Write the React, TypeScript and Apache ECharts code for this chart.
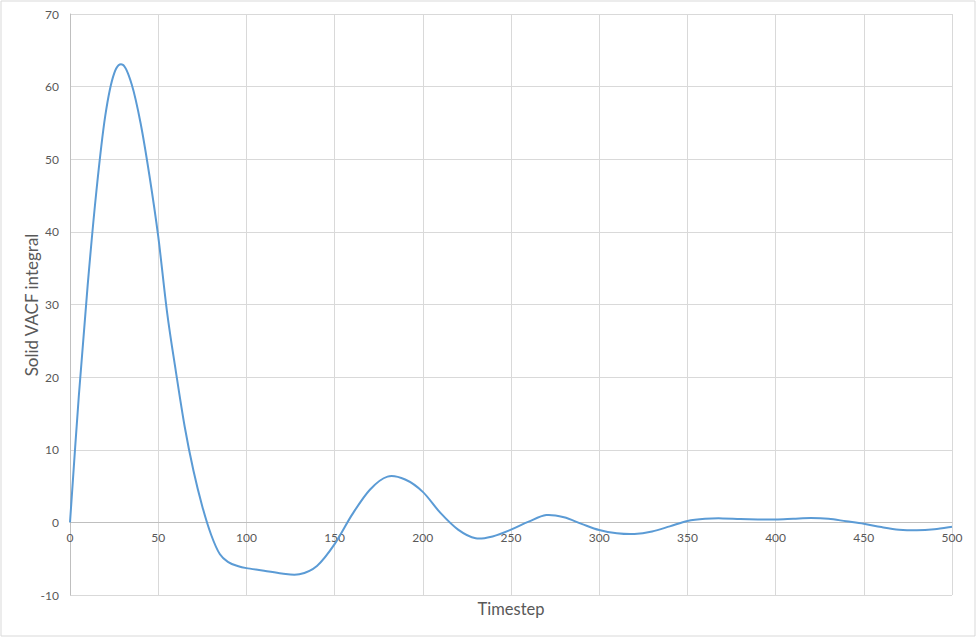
import React, { useEffect, useRef } from "react";
import * as echarts from "echarts";

const timesteps = [0, 5, 10, 15, 20, 25, 30, 35, 40, 45, 50, 55, 60, 65, 70, 75, 80, 85, 90, 95, 100, 110, 120, 130, 140, 150, 160, 170, 180, 190, 200, 210, 220, 230, 240, 250, 260, 270, 280, 290, 300, 310, 320, 330, 340, 350, 360, 370, 380, 390, 400, 410, 420, 430, 440, 450, 460, 470, 480, 490, 500];
const vacfIntegral = [0, 17.4, 32.6, 45.7, 56.0, 61.8, 63.0, 60.3, 55.0, 47.8, 39.4, 29.0, 20.8, 13.2, 7.1, 2.2, -1.7, -4.4, -5.5, -6.0, -6.3, -6.65, -7.05, -7.15, -6.0, -3.0, 1.1, 4.5, 6.3, 5.9, 4.2, 1.3, -1.0, -2.2, -1.9, -1.0, 0.1, 1.0, 0.7, -0.2, -1.05, -1.5, -1.6, -1.25, -0.55, 0.2, 0.5, 0.55, 0.45, 0.4, 0.4, 0.5, 0.6, 0.5, 0.15, -0.2, -0.65, -1.0, -1.1, -0.95, -0.6];

const xTitle = "Timestep";
const yTitle = "Solid VACF integral";

export default function App() {
  const ref = useRef<HTMLDivElement>(null);
  useEffect(() => {
    document.body.style.margin = "0";
    const chart = echarts.init(ref.current!, null, { renderer: "svg" });
    const font = "Lato, 'Open Sans', sans-serif";
    const data = timesteps.map((t, i) => [t, vacfIntegral[i]]);
    chart.setOption({
      animation: false,
      backgroundColor: "#ffffff",
      grid: { left: 70, right: 25, top: 14, bottom: 43, containLabel: false },
      xAxis: {
        type: "value",
        min: 0,
        max: 500,
        interval: 50,
        offset: -72.6,
        axisLine: { show: true, onZero: false, lineStyle: { color: "#bfbfbf", width: 1 } },
        axisTick: { show: false },
        axisLabel: { color: "#595959", fontSize: 12, fontFamily: font, margin: 9 },
        splitLine: { show: true, lineStyle: { color: "#d9d9d9", width: 1 } },
      },
      yAxis: {
        type: "value",
        min: -10,
        max: 70,
        interval: 10,
        axisLine: { show: true, onZero: false, lineStyle: { color: "#bfbfbf", width: 1 } },
        axisTick: { show: false },
        axisLabel: { color: "#595959", fontSize: 12, fontFamily: font, margin: 11 },
        splitLine: { show: true, lineStyle: { color: "#d9d9d9", width: 1 } },
      },
      series: [
        {
          type: "custom",
          data,
          encode: { x: 0, y: 1 },
          silent: true,
          renderItem: (params: any, api: any) => {
            if (params.dataIndex !== 0) return null;
            const pts = data.map((d) => api.coord(d));
            const n = pts.length;
            let d = `M${pts[0][0]},${pts[0][1]}`;
            for (let i = 0; i < n - 1; i++) {
              const p0 = pts[Math.max(0, i - 1)];
              const p1 = pts[i];
              const p2 = pts[i + 1];
              const p3 = pts[Math.min(n - 1, i + 2)];
              const c1x = p1[0] + (p2[0] - p0[0]) / 6;
              const c1y = p1[1] + (p2[1] - p0[1]) / 6;
              const c2x = p2[0] - (p3[0] - p1[0]) / 6;
              const c2y = p2[1] - (p3[1] - p1[1]) / 6;
              d += ` C${c1x},${c1y} ${c2x},${c2y} ${p2[0]},${p2[1]}`;
            }
            return {
              type: "path",
              shape: { pathData: d },
              style: { fill: "none", stroke: "#5b9bd5", lineWidth: 2, lineJoin: "round" },
            };
          },
        },
      ],
      graphic: [
        {
          type: "rect",
          shape: { x: 1, y: 1, width: 974, height: 635 },
          style: { fill: "none", stroke: "#d9d9d9", lineWidth: 1 },
          silent: true,
        },
        {
          type: "text",
          x: 511,
          y: 609,
          style: { text: xTitle, fill: "#595959", fontSize: 16.5, fontFamily: font, textAlign: "center", textVerticalAlign: "middle" },
        },
        {
          type: "text",
          x: 31,
          y: 305,
          rotation: Math.PI / 2,
          style: { text: yTitle, fill: "#595959", fontSize: 17, fontFamily: font, textAlign: "center", textVerticalAlign: "middle" },
        },
      ],
    });
    return () => chart.dispose();
  }, []);
  return <div ref={ref} style={{ width: 977, height: 638 }} />;
}
